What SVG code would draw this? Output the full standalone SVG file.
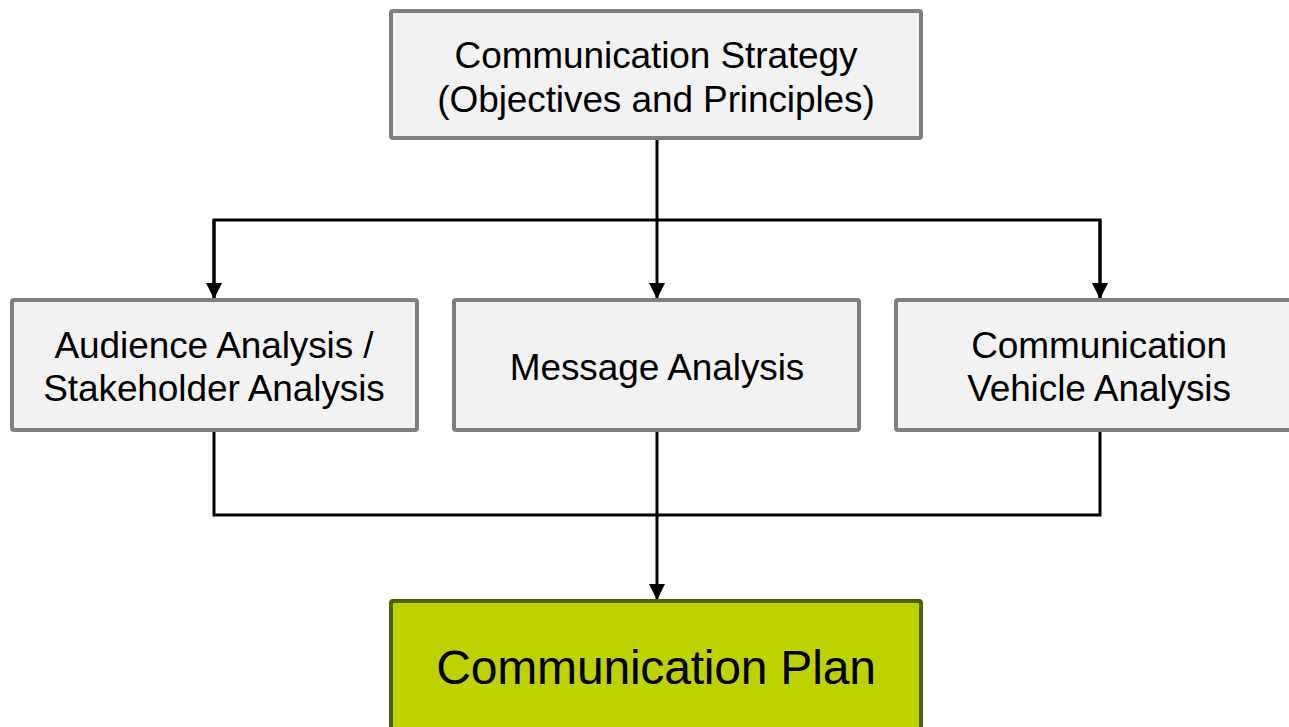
<svg xmlns="http://www.w3.org/2000/svg" width="1289" height="727" viewBox="0 0 1289 727">
<style>
.box{fill:#F2F2F2;stroke:#7F7F7F;stroke-width:4}
.plan{fill:#BDD200;stroke:#4A6200;stroke-width:4}
.t{font-family:"Liberation Sans",Arial,sans-serif;font-size:37px;fill:#000;text-anchor:middle;letter-spacing:-0.1px}
.tp{font-family:"Liberation Sans",Arial,sans-serif;font-size:48px;fill:#000;text-anchor:middle;letter-spacing:-0.2px}
.c{fill:none;stroke:#000;stroke-width:3}
</style>
<defs>
<marker id="arr" markerWidth="16" markerHeight="16" refX="16" refY="8" orient="auto" markerUnits="userSpaceOnUse" viewBox="0 0 16 16">
<path d="M0,0 L16,8 L0,16 Z" fill="#000"/>
</marker>
</defs>
<rect width="1289" height="727" fill="#fff"/>
<g id="connectors">
<path class="c" d="M657,138 V299" marker-end="url(#arr)"/>
<path class="c" d="M214,299 V220 H1100 V299" />
<path class="c" d="M214,220 V299" marker-end="url(#arr)"/>
<path class="c" d="M1100,220 V299" marker-end="url(#arr)"/>
<path class="c" d="M214,430 V515 H1100 V430"/>
<path class="c" d="M657,430 V600" marker-end="url(#arr)"/>
</g>
<g id="strategy">
<rect class="box" x="391" y="11" width="530" height="127" rx="2"/>
<text class="t" x="656" y="68">Communication Strategy</text>
<text class="t" x="656" y="112">(Objectives and Principles)</text>
</g>
<g id="audience">
<rect class="box" x="12" y="300" width="405" height="130" rx="2"/>
<text class="t" x="214" y="358">Audience Analysis /</text>
<text class="t" x="214" y="401">Stakeholder Analysis</text>
</g>
<g id="message">
<rect class="box" x="454" y="300" width="405" height="130" rx="2"/>
<text class="t" x="657" y="380">Message Analysis</text>
</g>
<g id="vehicle">
<rect class="box" x="896" y="300" width="408" height="130" rx="2"/>
<text class="t" x="1099" y="358">Communication</text>
<text class="t" x="1099" y="401">Vehicle Analysis</text>
</g>
<g id="plan">
<rect class="plan" x="391" y="601" width="530" height="140" rx="2"/>
<text class="tp" x="656" y="684">Communication Plan</text>
</g>
</svg>
